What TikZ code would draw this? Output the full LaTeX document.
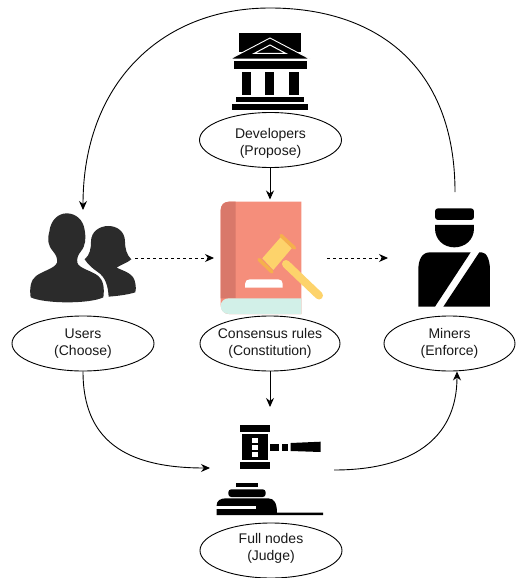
\documentclass[tikz,border=0pt]{standalone}
\usepackage{fontspec}
\setmainfont{Liberation Sans}
\usetikzlibrary{arrows.meta,shapes.geometric}
\definecolor{salmon}{HTML}{F58E7B}
\definecolor{spine}{HTML}{D9786A}
\definecolor{pagemint}{HTML}{D2F0E8}
\definecolor{hammer}{HTML}{FDD36B}
\definecolor{hammercap}{HTML}{F5B04C}
\definecolor{silhouette}{HTML}{2B2B2B}
\newcommand{\snugline}[1]{\makebox[80pt][c]{#1}}
\tikzset{
  role/.style={draw=black,line width=0.9pt,fill=white,shape=ellipse,inner sep=0pt,
    minimum height=55pt,align=center,text=black!90,
    font=\fontsize{14}{16.5}\selectfont},
  link/.style={draw=black,line width=0.9pt,-{Stealth[length=9pt,width=8pt]}},
  dashlink/.style={link,dash pattern=on 3pt off 3pt},
  iconpart/.style={fill=black,draw=none},
  zoomed/.style={shift={(#1)},x=0.3333pt,y=-0.3333pt}
}
\begin{document}
\begin{tikzpicture}[x=1pt,y=-1pt]
\useasboundingbox (0,0) rectangle (515,578);
\fill[white] (0,0) rectangle (515,578);

% ---- bank
\fill[black] (239,33) rectangle (301,52);
\fill[black,draw=white,line width=0.9pt,line join=miter] (230,59) -- (270,38) -- (310,59) -- cycle;
\fill[black,draw=white,line width=1pt] (254,53.5) -- (270,45) -- (286,53.5) -- cycle;
\fill[iconpart] (234,61) rectangle (307,69);
\foreach \a/\b in {242/251,265/274,289/299}{\fill[iconpart] (\a,72) rectangle (\b,95);}
\fill[iconpart] (236,97) rectangle (304,102);
\fill[iconpart] (232,104) rectangle (308,110);

% ---- book
\fill[salmon] (229,201.7) -- (301.3,201.7) -- (301.3,314) -- (229,314)
   .. controls (224,314) and (220.7,310) .. (220.7,305) -- (220.7,210)
   .. controls (220.7,205) and (224,201.7) .. (229,201.7) -- cycle;
\fill[spine] (229,201.7) -- (235.7,201.7) -- (235.7,298.3) -- (220.7,298.3) -- (220.7,210)
   .. controls (220.7,205) and (224,201.7) .. (229,201.7) -- cycle;
\fill[pagemint] (301.3,298.3) -- (229,298.3)
   .. controls (224,298.3) and (220.7,301.5) .. (220.7,306)
   .. controls (220.7,310.5) and (224,314) .. (229,314) -- (301.3,314) -- cycle;
\fill[white] (245,287.7) -- (245,284) .. controls (245,281) and (247,279.3) .. (250,279.3) -- (278,279.3)
   .. controls (281,279.3) and (282.7,281) .. (282.7,284) -- (282.7,287.7) -- cycle;
\draw[hammer,line width=8pt,line cap=round] (286,264) -- (319,295.5);
\fill[hammer] (280.7,237.3) -- (291.7,248.3) -- (273.3,270) -- (262.3,258.3) -- cycle;
\draw[hammercap,line width=3.5pt,line cap=round] (281,235.5) -- (294.5,248);
\draw[hammercap,line width=3.5pt,line cap=round] (259,259.5) -- (272,272);

% ---- users
\begin{scope}[zoomed={10,200}]
\fill[silhouette] (62,292) .. controls (58,265) and (62,240) .. (78,228)
  .. controls (100,212) and (135,205) .. (141,188)
  .. controls (143,175) and (138,165) .. (130,155)
  .. controls (112,135) and (112,115) .. (118,95)
  .. controls (122,60) and (145,40) .. (170,40)
  .. controls (198,40) and (220,60) .. (224,90)
  .. controls (228,115) and (228,135) .. (212,155)
  .. controls (204,165) and (200,175) .. (202,188)
  .. controls (206,205) and (245,212) .. (265,228)
  .. controls (280,240) and (284,265) .. (280,292)
  .. controls (240,312) and (105,312) .. (62,292) -- cycle;
\fill[silhouette] (224,178) .. controls (240,165) and (243,145) .. (243,125)
  .. controls (243,95) and (268,78) .. (295,78)
  .. controls (322,78) and (345,95) .. (345,125)
  .. controls (345,145) and (350,165) .. (364,178)
  .. controls (350,190) and (330,195) .. (320,203)
  .. controls (345,215) and (372,220) .. (376,250)
  .. controls (378,262) and (378,270) .. (376,277)
  .. controls (350,285) and (320,288) .. (296,290)
  .. controls (294,260) and (288,232) .. (262,215)
  .. controls (250,207) and (235,195) .. (224,178) -- cycle;
\end{scope}

% ---- miner
\begin{scope}[zoomed={400,195}]
\fill[black,rounded corners=3pt] (105,40) rectangle (222,75);
\fill[black] (105,90) -- (222,90) -- (222,100) .. controls (222,135) and (195,157) .. (163,157)
  .. controls (132,157) and (105,135) .. (105,100) -- cycle;
\fill[black] (55,335) -- (55,225) .. controls (55,195) and (65,172) .. (90,172) -- (212,172) -- (105,335) -- cycle;
\fill[black] (238,172) -- (245,172) .. controls (260,172) and (270,195) .. (270,225) -- (270,335) -- (130,335) -- cycle;
\end{scope}

% ---- gavel
\fill[iconpart] (240,425) rectangle (270,432.3);
\fill[iconpart] (242.3,434) rectangle (267.7,460);
\fill[white] (252.3,438) rectangle (257.7,442.7);
\fill[white] (252.3,445.3) rectangle (257.7,450);
\fill[white] (252.3,451.7) rectangle (257.7,456.7);
\fill[iconpart] (240,462) rectangle (270,469);
\fill[iconpart] (270,444.3) rectangle (279,450.7);
\fill[iconpart] (281.7,443.7) rectangle (288.3,450.7);
\fill[iconpart] (290.7,443) -- (320.7,441.7) -- (320.7,452) -- (290.7,451) -- cycle;
\fill[iconpart] (235.7,482.7) rectangle (258.3,487.3);
\fill[iconpart,rounded corners=3pt] (228.3,497) -- (228.3,489.3) -- (265.7,489.3) -- (265.7,497) -- cycle;
\fill[iconpart] (216.7,515) -- (216.7,505) .. controls (216.7,501) and (220,498.3) .. (226,498.3) -- (268,498.3)
   .. controls (274,498.3) and (277,503) .. (277,512.7) -- (323,512.7) -- (323,515) -- cycle;
\fill[white] (216,506) rectangle (255.7,508.7);

% ---- role ellipses
\node[role,minimum width=142pt] (dev) at (270.5,140) {\rule{0pt}{17pt}Developers\\(Propose)};
\node[role,minimum width=142pt] (users) at (83,343.5) {Users\\(Choose)};
\node[role,minimum width=140pt] (rules) at (270,343.5) {\snugline{Consensus rules}\\\snugline{(Constitution)}};
\node[role,minimum width=131pt] (miners) at (449.5,343.5) {Miners\\(Enforce)};
\node[role,minimum width=142pt] (full) at (271,550.5) {Full nodes\\(Judge)\rule[-7pt]{0pt}{7pt}};

% ---- connector ends at the icons
\coordinate (minersTop) at (455,192);
\coordinate (usersTop) at (83,210);
\coordinate (usersOut) at (135,258);
\coordinate (bookIn) at (214,258);
\coordinate (bookOut) at (327,258);
\coordinate (minersIn) at (388,258);
\coordinate (bookTop) at (270,199.5);
\coordinate (gavelTop) at (270,407);
\coordinate (gavelIn) at (210,468);
\coordinate (gavelOut) at (334,470);

% ---- connectors
\draw[link] (minersTop) .. controls (455,65) and (375,8) .. (270,8)
   .. controls (160,8) and (83,85) .. (usersTop);
\draw[dashlink] (usersOut) -- (bookIn);
\draw[dashlink] (bookOut) -- (minersIn);
\draw[link] (dev.south -| bookTop) -- (bookTop);
\draw[link] (rules.south -| gavelTop) -- (gavelTop);
\draw[link] (users.south) .. controls (83,440) and (125,468) .. (gavelIn);
\draw[link] (gavelOut) .. controls (410,470) and (457,440) .. (miners.south -| 457,0);
\end{tikzpicture}
\end{document}
